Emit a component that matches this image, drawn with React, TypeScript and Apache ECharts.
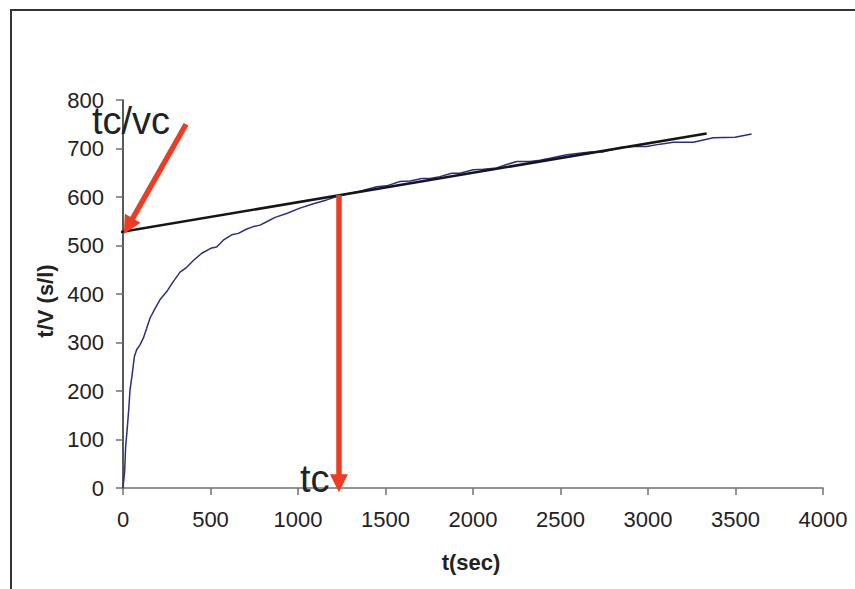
import React, { useEffect, useRef } from "react";
import * as echarts from "echarts";

// Measured curve t/V vs t
const timeSec: number[] = [0, 9.5, 15, 25, 34, 40, 53, 65, 78, 97, 116, 135, 154, 183, 211, 250, 288, 326, 364, 402, 450, 507, 535, 573, 621, 659, 707, 745, 783, 821, 869, 935, 1011, 1088, 1164, 1221, 1278, 1354, 1450, 1507, 1583, 1640, 1707, 1754, 1811, 1878, 1926, 2002, 2059, 2135, 2192, 2250, 2326, 2383, 2440, 2535, 2669, 2745, 2840, 2916, 2992, 3069, 3145, 3259, 3373, 3497, 3592];
const tOverV: number[] = [0, 34, 85, 126, 168, 202, 236, 271, 285, 295, 309, 329, 350, 370, 388, 405, 426, 445, 455, 469, 484, 495, 497, 511, 522, 525, 534, 539, 542, 549, 558, 566, 577, 586, 594, 601, 606, 612, 621, 623, 632, 633, 638, 638, 642, 649, 649, 656, 657, 660, 667, 673, 673, 676, 680, 687, 693, 693, 702, 704, 704, 709, 713, 713, 722, 723, 730];

// Fitted straight line (extrapolated to the t/V axis)
const fitT: number[] = [-114, 3335];
const fitV: number[] = [521.6, 731];

// Annotation arrows: [start t, start v, end t, end v]
const arrowTcVc: number[] = [360, 750, 30, 540];
const arrowTc: number[] = [1234, 604, 1234, 10];

const xTicks = { min: 0, max: 4000, interval: 500 };
const yTicks = { min: 0, max: 800, interval: 100 };

const FONT = "Liberation Sans, Arial, Helvetica, sans-serif";

export default function App() {
  const ref = useRef<HTMLDivElement>(null);
  useEffect(() => {
    if (!ref.current) return;
    const chart = echarts.init(ref.current, undefined, { renderer: "svg" });
    const curve = timeSec.map((t, i) => [t, tOverV[i]]);
    const fit = fitT.map((t, i) => [t, fitV[i]]);
    chart.setOption({
      animation: false,
      backgroundColor: "#ffffff",
      grid: { left: 123, right: 32, top: 100, bottom: 101, containLabel: false },
      xAxis: {
        type: "value",
        min: xTicks.min,
        max: xTicks.max,
        interval: xTicks.interval,
        axisLine: { show: true, onZero: false, lineStyle: { color: "#707070", width: 1.5 } },
        axisTick: { show: true, inside: false, length: 7, lineStyle: { color: "#707070", width: 1.5 } },
        axisLabel: { color: "#222", fontSize: 22, fontFamily: FONT, margin: 20, formatter: (v: number) => String(v) },
        splitLine: { show: false },
      },
      yAxis: {
        type: "value",
        min: yTicks.min,
        max: yTicks.max,
        interval: yTicks.interval,
        axisLine: { show: true, onZero: false, lineStyle: { color: "#222", width: 1.5 } },
        axisTick: { show: true, inside: false, length: 7, lineStyle: { color: "#707070", width: 1.5 } },
        axisLabel: { color: "#222", fontSize: 22, fontFamily: FONT, margin: 19, formatter: (v: number) => String(v) },
        splitLine: { show: false },
      },
      series: [
        {
          type: "line",
          data: curve,
          showSymbol: false,
          lineStyle: { color: "#2b2e86", width: 1.5 },
          z: 3,
        },
        {
          type: "line",
          data: fit,
          showSymbol: false,
          clip: false,
          lineStyle: { color: "#151515", width: 2.5 },
          z: 4,
        },
        {
          type: "lines",
          coordinateSystem: "cartesian2d",
          clip: false,
          symbol: ["none", "triangle"],
          symbolSize: 18,
          lineStyle: { color: "#ee3b24", width: 5.5, opacity: 1, curveness: 0 },
          z: 5,
          data: [
            { coords: [[arrowTcVc[0], arrowTcVc[1]], [arrowTcVc[2], arrowTcVc[3]]] },
            { coords: [[arrowTc[0], arrowTc[1]], [arrowTc[2], arrowTc[3]]] },
          ],
        },
      ],
      graphic: [
        {
          type: "polyline",
          shape: { points: [[11, 600], [11, 10], [870, 10]] },
          style: { stroke: "#333", lineWidth: 2, fill: "none" },
          silent: true,
        },
        {
          type: "text",
          x: 45,
          y: 301,
          rotation: Math.PI / 2,
          style: {
            text: "t/V (s/l)",
            font: `bold 22px ${FONT}`,
            fill: "#222",
            align: "center",
            verticalAlign: "middle",
          },
        },
        {
          type: "text",
          x: 471,
          y: 562,
          style: {
            text: "t(sec)",
            font: `bold 22px ${FONT}`,
            fill: "#222",
            align: "center",
            verticalAlign: "middle",
          },
        },
        {
          type: "text",
          x: 92,
          y: 121,
          z: 10,
          style: {
            text: "tc/vc",
            font: `38px ${FONT}`,
            fill: "#222",
            align: "left",
            verticalAlign: "middle",
          },
        },
        {
          type: "text",
          x: 300,
          y: 479,
          z: 10,
          style: {
            text: "tc",
            font: `38px ${FONT}`,
            fill: "#222",
            align: "left",
            verticalAlign: "middle",
          },
        },
      ],
    });
    return () => chart.dispose();
  }, []);
  return (
    <div
      ref={ref}
      style={{ position: "fixed", left: 0, top: 0, width: 855, height: 589, background: "#fff" }}
    />
  );
}
